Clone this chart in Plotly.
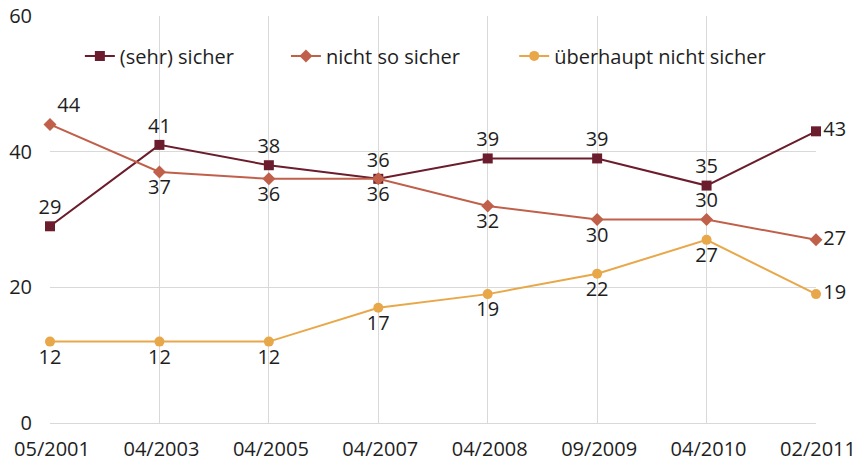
import plotly.graph_objects as go

categories = ["05/2001", "04/2003", "04/2005", "04/2007", "04/2008", "09/2009", "04/2010", "02/2011"]
sehr_sicher = [29, 41, 38, 36, 39, 39, 35, 43]
nicht_so_sicher = [44, 37, 36, 36, 32, 30, 30, 27]
ueberhaupt_nicht = [12, 12, 12, 17, 19, 22, 27, 19]
y_ticks = [0, 20, 40, 60]

pos_sehr = ["top center"] * 7 + ["middle right"]
pos_nicht = ["top right", "bottom center", "bottom center", "bottom center", "bottom center",
             "bottom center", "top center", "middle right"]
pos_ueber = ["bottom center"] * 7 + ["middle right"]

FONT = "Open Sans, Noto Sans, sans-serif"
INK = "#1e1e1e"
TXT = dict(family=FONT, size=20, color=INK)

C1, C2, C3 = "#6B1D2D", "#C0604B", "#E8A84A"

fig = go.Figure()
fig.add_trace(go.Scatter(
    x=categories, y=sehr_sicher, name="(sehr) sicher", mode="lines+markers+text",
    line=dict(color=C1, width=2), marker=dict(symbol="square", size=10, color=C1),
    text=[str(v) for v in sehr_sicher], textposition=pos_sehr, textfont=TXT, cliponaxis=False,
    legend="legend"))
fig.add_trace(go.Scatter(
    x=categories, y=nicht_so_sicher, name="nicht so sicher", mode="lines+markers+text",
    line=dict(color=C2, width=2), marker=dict(symbol="diamond", size=10, color=C2),
    text=[str(v) for v in nicht_so_sicher], textposition=pos_nicht, textfont=TXT, cliponaxis=False,
    legend="legend2"))
fig.add_trace(go.Scatter(
    x=categories, y=ueberhaupt_nicht, name="überhaupt nicht sicher", mode="lines+markers+text",
    line=dict(color=C3, width=2), marker=dict(symbol="circle", size=10, color=C3),
    text=[str(v) for v in ueberhaupt_nicht], textposition=pos_ueber, textfont=TXT, cliponaxis=False,
    legend="legend3"))

leg_common = dict(orientation="h", y=0.902, xanchor="left", yanchor="middle",
                  font=dict(family=FONT, size=20, color=INK),
                  bgcolor="rgba(0,0,0,0)", itemwidth=30)

fig.update_layout(
    width=856, height=461,
    margin=dict(l=50, r=40, t=16, b=38, autoexpand=False),
    plot_bgcolor="white", paper_bgcolor="white",
    font=dict(family=FONT, size=20, color=INK),
    showlegend=True,
    legend=dict(x=0.039, **leg_common),
    legend2=dict(x=0.308, **leg_common),
    legend3=dict(x=0.606, **leg_common),
    xaxis=dict(type="category", range=[0, 7], showgrid=True, gridcolor="#D9D9D9", gridwidth=1,
               showline=True, linecolor="#D9D9D9", zeroline=False, ticks="",
               automargin=False, ticklabelstandoff=8, ticklabelshift=2,
               tickfont=dict(family=FONT, size=20, color=INK), fixedrange=True),
    yaxis=dict(range=[0, 60], tickvals=y_ticks, showgrid=True, gridcolor="#D9D9D9", gridwidth=1,
               showline=False, zeroline=False, ticks="", ticklabelstandoff=17, automargin=False,
               tickfont=dict(family=FONT, size=20, color=INK), fixedrange=True),
)

fig.write_html("out.html", config={"displayModeBar": False},
               post_script="document.body.style.margin='0';document.body.style.overflow='hidden';")
